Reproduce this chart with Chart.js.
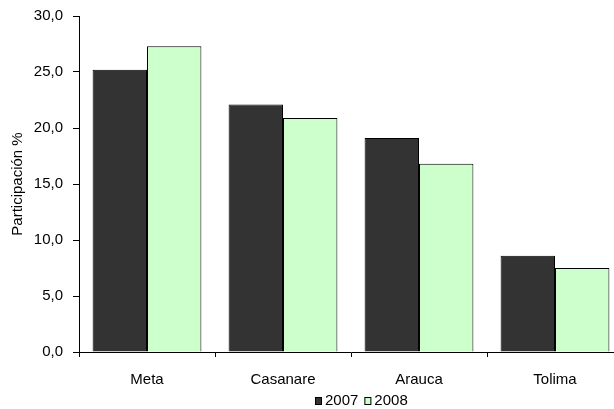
<!DOCTYPE html>
<html>
<head>
<meta charset="utf-8">
<script src="https://cdn.jsdelivr.net/npm/chart.js"></script>
<style>
  html, body { margin: 0; padding: 0; background: #fff; overflow: hidden; }
  #wrap { position: relative; width: 624px; height: 409px; }
</style>
</head>
<body>
<div id="wrap"><canvas id="chart"></canvas></div>
<script>
const categories = ['Meta', 'Casanare', 'Arauca', 'Tolima'];
const seriesNames = ['2007', '2008'];
const values2007 = [25.2, 22.1, 19.1, 8.6];
const values2008 = [27.3, 20.9, 16.8, 7.5];
const yTickValues = [0, 5, 10, 15, 20, 25, 30];

const FONT = '"Liberation Sans", Arial, sans-serif';

// leyenda dibujada a mano (en el original queda desplazada a la derecha)
const bottomLegend = {
  id: 'bottomLegend',
  afterDraw(chart) {
    const ctx = chart.ctx;
    ctx.save();
    ctx.font = '15px ' + FONT;
    ctx.textBaseline = 'middle';
    let x = 315;
    const y = 401;
    chart.data.datasets.forEach(ds => {
      ctx.fillStyle = ds.backgroundColor;
      ctx.fillRect(x, 397, 7, 8);
      ctx.strokeStyle = '#000';
      ctx.lineWidth = 1;
      ctx.strokeRect(x + 0.5, 397.5, 6, 7);
      ctx.fillStyle = '#000';
      ctx.fillText(ds.label, x + 10, y);
      x += 10 + ctx.measureText(ds.label).width + 6;
    });
    ctx.restore();
  }
};

const ctx = document.getElementById('chart').getContext('2d');
const chart = new Chart(ctx, {
  type: 'bar',
  data: {
    labels: categories,
    datasets: [
      {
        label: seriesNames[0],
        data: values2007,
        backgroundColor: '#333333',
        borderColor: '#000',
        borderWidth: 1,
        categoryPercentage: 0.8,
        barPercentage: 1.0
      },
      {
        label: seriesNames[1],
        data: values2008,
        backgroundColor: '#ccffcc',
        borderColor: '#000',
        borderWidth: 1,
        categoryPercentage: 0.8,
        barPercentage: 1.0
      }
    ]
  },
  options: {
    responsive: true,
    maintainAspectRatio: false,
    animation: false,
    layout: { padding: { top: 16, right: 1, bottom: 0, left: 0 } },
    plugins: {
      legend: { display: false },
      tooltip: { enabled: false }
    },
    scales: {
      x: {
        offset: true,
        grid: { offset: true, drawOnChartArea: false, tickLength: 5, color: '#000' },
        border: { color: '#000' },
        ticks: { color: '#000', font: { family: FONT, size: 15 }, padding: 14, maxRotation: 0 },
        afterFit(scale) { scale.height = 57; }
      },
      y: {
        min: 0,
        max: 30,
        afterBuildTicks(scale) { scale.ticks = yTickValues.map(v => ({ value: v })); },
        grid: { drawOnChartArea: false, tickLength: 6, color: '#000' },
        border: { color: '#000' },
        ticks: {
          color: '#000',
          font: { family: FONT, size: 15, lineHeight: 1 },
          padding: 10,
          callback: v => v.toFixed(1).replace('.', ',')
        },
        title: {
          display: true,
          text: 'Participación %',
          color: '#000',
          font: { family: FONT, size: 15 },
          padding: { top: 9, bottom: 0 }
        },
        afterFit(scale) {
          scale.width = 79;
          scale.paddingTop = 0;
        }
      }
    }
  },
  plugins: [bottomLegend]
});
</script>
</body>
</html>
